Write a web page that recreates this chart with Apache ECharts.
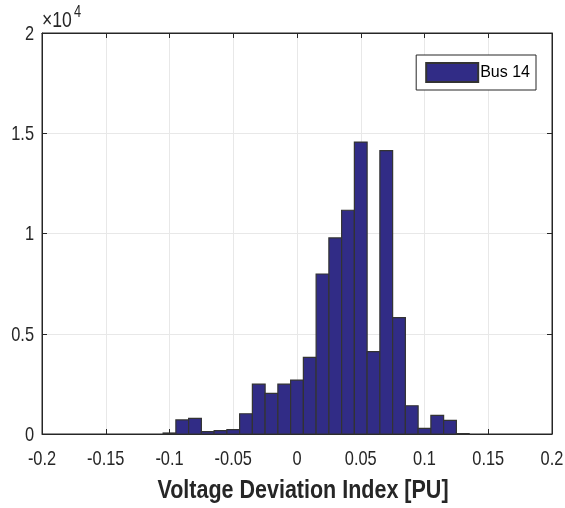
<!DOCTYPE html>
<html><head><meta charset="utf-8">
<script src="https://cdn.jsdelivr.net/npm/echarts@6/dist/echarts.min.js"></script>
<style>html,body{margin:0;padding:0;background:#fff}#c{width:565px;height:508px}</style>
</head><body><div id="c"></div>
<script>
var binCenters = [-0.10,-0.09,-0.08,-0.07,-0.06,-0.05,-0.04,-0.03,-0.02,-0.01,0.00,0.01,0.02,0.03,0.04,0.05,0.06,0.07,0.08,0.09,0.10,0.11,0.12,0.13];
var counts =     [50,   700,  780,  120,  170,  220,  1010, 2490, 2030, 2490, 2690, 3820, 7980, 9780, 11160,14560,4110, 14130,5800, 1410, 280,  930,  680,  20];
var binWidth = 0.01;
var xTicks = [-0.2,-0.15,-0.1,-0.05,0,0.05,0.1,0.15,0.2];
var xTickLabels = ['-0.2','-0.15','-0.1','-0.05','0','0.05','0.1','0.15','0.2'];
var yTicks = [0,5000,10000,15000,20000];
var yTickLabels = ['0','0.5','1','1.5','2'];
var seriesName = 'Bus 14';
var xLabel = 'Voltage Deviation Index [PU]';

var data = binCenters.map(function(c,i){return [c, counts[i]];});
var fam = '"Liberation Sans", Arial, sans-serif';
var chart = echarts.init(document.getElementById('c'), null, {renderer:'canvas'});
var axisCol = '#262626';
var tickStyle = {show:true,inside:true,length:5,lineStyle:{color:axisCol}};
chart.setOption({
  animation:false,
  grid:{left:42,right:13,top:33,bottom:74,show:true,borderColor:axisCol,borderWidth:1,backgroundColor:'#fff'},
  legend:{show:true,right:29,top:55,orient:'vertical',itemWidth:52,itemHeight:19,padding:[7,6,7,9],itemGap:4,
    borderColor:axisCol,borderWidth:1,backgroundColor:'#fff',
    textStyle:{fontFamily:fam,fontSize:16,color:'#000',padding:[0,0,0,-3]},
    data:[{name:seriesName,icon:'rect'}]},
  xAxis:[{type:'value',min:-0.2,max:0.2,interval:0.05,
    axisLine:{show:true,onZero:false,lineStyle:{color:axisCol}},
    axisTick:tickStyle,
    splitLine:{show:true,lineStyle:{color:'#e8e8e8',width:1}},
    axisLabel:{show:false}},
   {type:'value',position:'top',min:-0.2,max:0.2,interval:0.05,
    axisLine:{show:true,onZero:false,lineStyle:{color:axisCol}},
    axisTick:tickStyle,splitLine:{show:false},axisLabel:{show:false}}],
  yAxis:[{type:'value',min:0,max:20000,interval:5000,
    axisLine:{show:true,onZero:false,lineStyle:{color:axisCol}},
    axisTick:tickStyle,
    splitLine:{show:true,lineStyle:{color:'#e8e8e8',width:1}},
    axisLabel:{show:false}},
   {type:'value',position:'right',min:0,max:20000,interval:5000,
    axisLine:{show:true,onZero:false,lineStyle:{color:axisCol}},
    axisTick:tickStyle,splitLine:{show:false},axisLabel:{show:false}}],
  series:[{type:'custom',name:seriesName,xAxisIndex:0,yAxisIndex:0,
    itemStyle:{color:'#312c86',borderColor:'#333333',borderWidth:1},
    renderItem:function(params,api){
      var c=api.value(0), v=api.value(1);
      var p0=api.coord([c-binWidth/2,v]);
      var p1=api.coord([c+binWidth/2,0]);
      return {type:'rect',shape:{x:p0[0],y:p0[1],width:p1[0]-p0[0],height:p1[1]-p0[1]},
        style:{fill:'#312c86',stroke:'#333333',lineWidth:1.2}};
    },
    encode:{x:0,y:1},
    data:data}]
});

function txt(s,x,y,size,align,sx,bold){
  return {type:'text',x:x,y:y,scaleX:sx,silent:true,z:100,
    style:{text:s,font:(bold?'bold ':'')+size+'px '+fam,fill:'#262626',
      align:align,verticalAlign:'middle',textAlign:align,textVerticalAlign:'middle'}};
}
var g=[];
xTicks.forEach(function(v,i){
  var p=chart.convertToPixel({xAxisIndex:0,yAxisIndex:0},[v,0]);
  g.push(txt(xTickLabels[i],p[0],p[1]+25.5,21,'center',0.78,false));
});
yTicks.forEach(function(v,i){
  var p=chart.convertToPixel({xAxisIndex:0,yAxisIndex:0},[-0.2,v]);
  g.push(txt(yTickLabels[i],p[0]-8,p[1]+1,21,'right',0.78,false));
});
var pc=chart.convertToPixel({xAxisIndex:0,yAxisIndex:0},[0,0]);
g.push(txt(xLabel,pc[0]+6,pc[1]+57,25,'center',0.86,true));
var pt=chart.convertToPixel({xAxisIndex:0,yAxisIndex:0},[-0.2,20000]);
g.push(txt('×10',pt[0],pt[1]-12.5,22,'left',0.8,false));
g.push(txt('4',pt[0]+32,pt[1]-20,16,'left',0.8,false));
chart.setOption({graphic:g});
</script></body></html>
